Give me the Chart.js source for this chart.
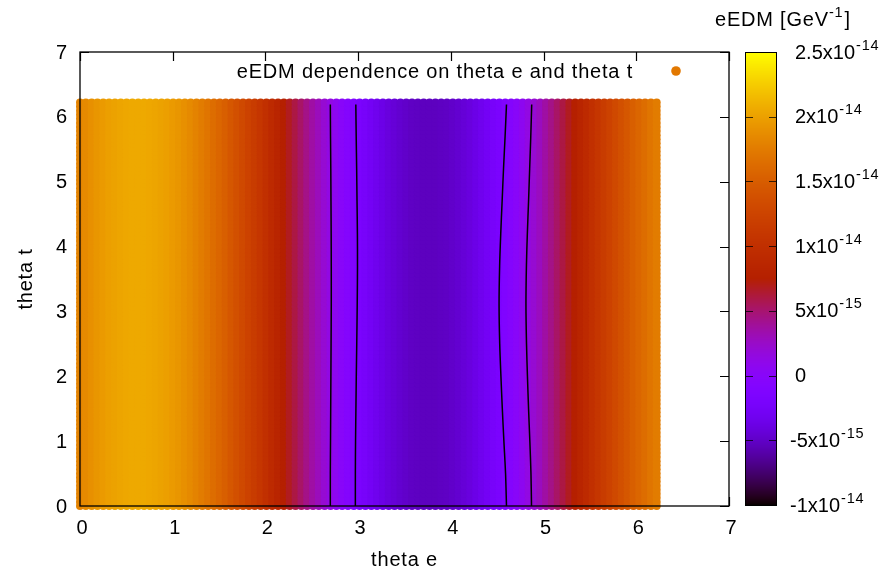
<!DOCTYPE html>
<html>
<head>
<meta charset="utf-8">
<script src="https://cdn.jsdelivr.net/npm/chart.js@4.4.0/dist/chart.umd.min.js"></script>
<style>
  html, body { margin: 0; padding: 0; background: #fff; }
  canvas { display: block; }
</style>
</head>
<body>
<canvas id="chart" width="892" height="578"></canvas>
<script>
// sample grid, used for theta e and for theta t (0 .. 2pi, 100 steps)
const thetaGrid = [
  0.000, 0.063, 0.126, 0.188, 0.251, 0.314, 0.377, 0.440, 0.503, 0.565,
  0.628, 0.691, 0.754, 0.817, 0.880, 0.942, 1.005, 1.068, 1.131, 1.194,
  1.257, 1.319, 1.382, 1.445, 1.508, 1.571, 1.634, 1.696, 1.759, 1.822,
  1.885, 1.948, 2.011, 2.073, 2.136, 2.199, 2.262, 2.325, 2.388, 2.450,
  2.513, 2.576, 2.639, 2.702, 2.765, 2.827, 2.890, 2.953, 3.016, 3.079,
  3.142, 3.204, 3.267, 3.330, 3.393, 3.456, 3.519, 3.581, 3.644, 3.707,
  3.770, 3.833, 3.896, 3.958, 4.021, 4.084, 4.147, 4.210, 4.273, 4.335,
  4.398, 4.461, 4.524, 4.587, 4.650, 4.712, 4.775, 4.838, 4.901, 4.964,
  5.027, 5.089, 5.152, 5.215, 5.278, 5.341, 5.404, 5.466, 5.529, 5.592,
  5.655, 5.718, 5.781, 5.843, 5.906, 5.969, 6.032, 6.095, 6.158, 6.220
]

// eEDM read along theta e, in 1e-14 GeV^-1 (it hardly moves with theta t)
const eedmValues = [
  1.80, 1.85, 1.89, 1.93, 1.96, 1.99, 2.01, 2.03, 2.04, 2.05,
  2.05, 2.05, 2.04, 2.03, 2.01, 1.99, 1.96, 1.93, 1.89, 1.85,
  1.80, 1.75, 1.70, 1.64, 1.58, 1.52, 1.45, 1.38, 1.31, 1.23,
  1.16, 1.08, 1.00, 0.92, 0.84, 0.76, 0.68, 0.60, 0.52, 0.44,
  0.36, 0.29, 0.21, 0.14, 0.07, 0.00, -0.06, -0.12, -0.18, -0.23,
  -0.28, -0.33, -0.37, -0.41, -0.44, -0.47, -0.49, -0.51, -0.52, -0.53,
  -0.53, -0.53, -0.52, -0.51, -0.49, -0.47, -0.44, -0.41, -0.37, -0.33,
  -0.28, -0.23, -0.18, -0.12, -0.06, 0.00, 0.07, 0.14, 0.21, 0.28,
  0.36, 0.44, 0.52, 0.60, 0.68, 0.76, 0.84, 0.92, 1.00, 1.08,
  1.16, 1.23, 1.31, 1.38, 1.45, 1.52, 1.58, 1.64, 1.70, 1.75
]

// black contour lines, theta e position at each theta t
const contourT = [0, 0.5, 1.0, 1.5, 2.0, 2.5, 3.1, 3.7, 4.2, 4.7, 5.2, 5.7, 6.19]
const contourA = [2.700, 2.700, 2.702, 2.704, 2.706, 2.708, 2.710, 2.710, 2.709, 2.707, 2.705, 2.702, 2.700]
const contourB = [2.970, 2.970, 2.972, 2.976, 2.980, 2.985, 2.990, 2.993, 2.992, 2.988, 2.984, 2.979, 2.975]
const contourC = [4.600, 4.590, 4.572, 4.555, 4.540, 4.527, 4.520, 4.526, 4.538, 4.553, 4.568, 4.585, 4.600]
const contourD = [4.870, 4.864, 4.852, 4.838, 4.826, 4.816, 4.810, 4.815, 4.825, 4.838, 4.850, 4.862, 4.872]

const xTicks = [0, 1, 2, 3, 4, 5, 6, 7]
const yTicks = [0, 1, 2, 3, 4, 5, 6, 7]
const cbMin = -1
const cbMax = 2.5
const cbTicks = [-1, -0.5, 0, 0.5, 1, 1.5, 2, 2.5]
const cbLabels = [
  ['-1x10', '-14'], ['-5x10', '-15'], ['0', ''], ['5x10', '-15'],
  ['1x10', '-14'], ['1.5x10', '-14'], ['2x10', '-14'], ['2.5x10', '-14']
]

const FONT = '"Liberation Sans", Arial, Helvetica, sans-serif'
const BIG = `20px ${FONT}`
const SMALL = `14.5px ${FONT}`

// gnuplot default palette (rgbformulae 7,5,15)
function paletteColor(v) {
    let t = (v - cbMin) / (cbMax - cbMin)
    t = Math.min(1, Math.max(0, t))
    const r = Math.sqrt(t)
    const g = t * t * t
    const b = Math.max(0, Math.sin(2 * Math.PI * t))
    return `rgb(${Math.round(r * 255)},${Math.round(g * 255)},${Math.round(b * 255)})`
}

const columnColors = eedmValues.map(paletteColor)
const gridPoints = []
const gridColors = []
thetaGrid.forEach((te, i) => {
    thetaGrid.forEach(tt => {
        gridPoints.push({x: te, y: tt})
        gridColors.push(columnColors[i])
    })
})

function contourDataset(xs) {
    return {
        type: 'line',
        data: xs.map((x, k) => ({x: x, y: contourT[k]})),
        borderColor: '#000',
        borderWidth: 1.5,
        pointRadius: 0,
        showLine: true,
        fill: false,
        tension: 0.3,
        order: 0,
    }
}

function drawText(ctx, text, x, y, align, spacing) {
    ctx.letterSpacing = spacing || '0px'
    ctx.textAlign = align
    ctx.fillText(text, x, y)
    ctx.letterSpacing = '0px'
}

function drawSupLabel(ctx, base, sup, x, y) {
    ctx.textAlign = 'left'
    ctx.textBaseline = 'middle'
    ctx.font = BIG
    ctx.fillText(base, x, y)
    if (sup) {
        const w = ctx.measureText(base).width
        ctx.font = SMALL
        ctx.letterSpacing = '0.8px'
        ctx.fillText(sup, x + w + 1, y - 7.5)
        ctx.letterSpacing = '0px'
    }
}

const gnuplotFrame = {
    id: 'gnuplotFrame',
    beforeDatasetsDraw(chart) {
        // inward tics on all four sides, behind the points
        const {ctx, chartArea: a, scales: {x, y}} = chart
        ctx.save()
        ctx.strokeStyle = '#000'
        ctx.lineWidth = 1.2
        ctx.beginPath()
        xTicks.forEach(v => {
            const px = Math.round(x.getPixelForValue(v)) + 0.5
            ctx.moveTo(px, a.bottom); ctx.lineTo(px, a.bottom - 9)
            ctx.moveTo(px, a.top); ctx.lineTo(px, a.top + 9)
        })
        yTicks.forEach(v => {
            const py = Math.round(y.getPixelForValue(v)) + 0.5
            ctx.moveTo(a.left, py); ctx.lineTo(a.left + 9, py)
            ctx.moveTo(a.right, py); ctx.lineTo(a.right - 9, py)
        })
        ctx.stroke()
        ctx.restore()
    },
    afterDatasetsDraw(chart) {
        const {ctx, chartArea: a, scales: {x, y}} = chart
        ctx.save()
        ctx.strokeStyle = '#000'
        ctx.lineWidth = 1.3
        ctx.strokeRect(a.left, a.top, a.right - a.left, a.bottom - a.top)

        ctx.fillStyle = '#000'
        ctx.font = BIG
        ctx.textBaseline = 'middle'
        xTicks.forEach(v => drawText(ctx, String(v), x.getPixelForValue(v) + 2, a.bottom + 22, 'center'))
        yTicks.forEach(v => drawText(ctx, String(v), a.left - 13, y.getPixelForValue(v) + 1, 'right'))

        drawText(ctx, 'theta e', (a.left + a.right) / 2, a.bottom + 54, 'center', '0.8px')
        ctx.save()
        ctx.translate(26, (a.top + a.bottom) / 2)
        ctx.rotate(-Math.PI / 2)
        drawText(ctx, 'theta t', 0, 0, 'center', '0.8px')
        ctx.restore()

        // key
        drawText(ctx, chart.data.datasets[0].label, 633, 72, 'right', '0.8px')
        ctx.fillStyle = '#e27800'
        ctx.beginPath()
        ctx.arc(676, 71, 4.8, 0, 2 * Math.PI)
        ctx.fill()

        // colour box
        const cbL = 745, cbR = 777, cbT = a.top, cbB = a.bottom - 1
        for (let py = cbT; py < cbB; py++) {
            const v = cbMax - (py + 0.5 - cbT) / (cbB - cbT) * (cbMax - cbMin)
            ctx.fillStyle = paletteColor(v)
            ctx.fillRect(cbL, py, cbR - cbL, 1)
        }
        ctx.strokeStyle = '#000'
        ctx.lineWidth = 1
        ctx.strokeRect(cbL + 0.5, cbT + 0.5, cbR - cbL - 1, cbB - cbT)
        ctx.strokeStyle = 'rgba(0,0,0,0.75)'
        ctx.beginPath()
        cbTicks.forEach(v => {
            const py = Math.round(cbB - (v - cbMin) / (cbMax - cbMin) * (cbB - cbT)) + 0.5
            ctx.moveTo(cbL, py); ctx.lineTo(cbL + 8, py)
            ctx.moveTo(cbR, py); ctx.lineTo(cbR - 8, py)
        })
        ctx.stroke()

        ctx.fillStyle = '#000'
        cbTicks.forEach((v, k) => {
            const py = cbB - (v - cbMin) / (cbMax - cbMin) * (cbB - cbT) + 1
            const [base, sup] = cbLabels[k]
            drawSupLabel(ctx, base, sup, base.startsWith('-') ? 790 : 795, py)
        })

        ctx.font = BIG
        ctx.textBaseline = 'middle'
        ctx.letterSpacing = '0.8px'
        ctx.textAlign = 'left'
        const t1 = 'eEDM [GeV'
        ctx.fillText(t1, 715, 20)
        let w = ctx.measureText(t1).width
        ctx.font = SMALL
        ctx.fillText('-1', 715 + w, 12.5)
        w += ctx.measureText('-1').width
        ctx.font = BIG
        ctx.fillText(']', 715 + w + 1, 20)
        ctx.letterSpacing = '0px'
        ctx.restore()
    }
}

new Chart(document.getElementById('chart'), {
    type: 'scatter',
    data: {
        datasets: [
            {
                label: 'eEDM dependence on theta e and theta t',
                data: gridPoints,
                backgroundColor: gridColors,
                pointRadius: 4,
                pointHoverRadius: 4,
                borderWidth: 0,
                clip: 8,
                order: 1,
            },
            contourDataset(contourA),
            contourDataset(contourB),
            contourDataset(contourC),
            contourDataset(contourD),
        ]
    },
    options: {
        responsive: false,
        animation: false,
        events: [],
        layout: {padding: {left: 80, top: 52, right: 163, bottom: 72}},
        scales: {
            x: {type: 'linear', min: 0, max: 7, display: false},
            y: {type: 'linear', min: 0, max: 7, display: false},
        },
        plugins: {
            legend: {display: false},
            tooltip: {enabled: false},
        }
    },
    plugins: [gnuplotFrame]
})
</script>
</body>
</html>
